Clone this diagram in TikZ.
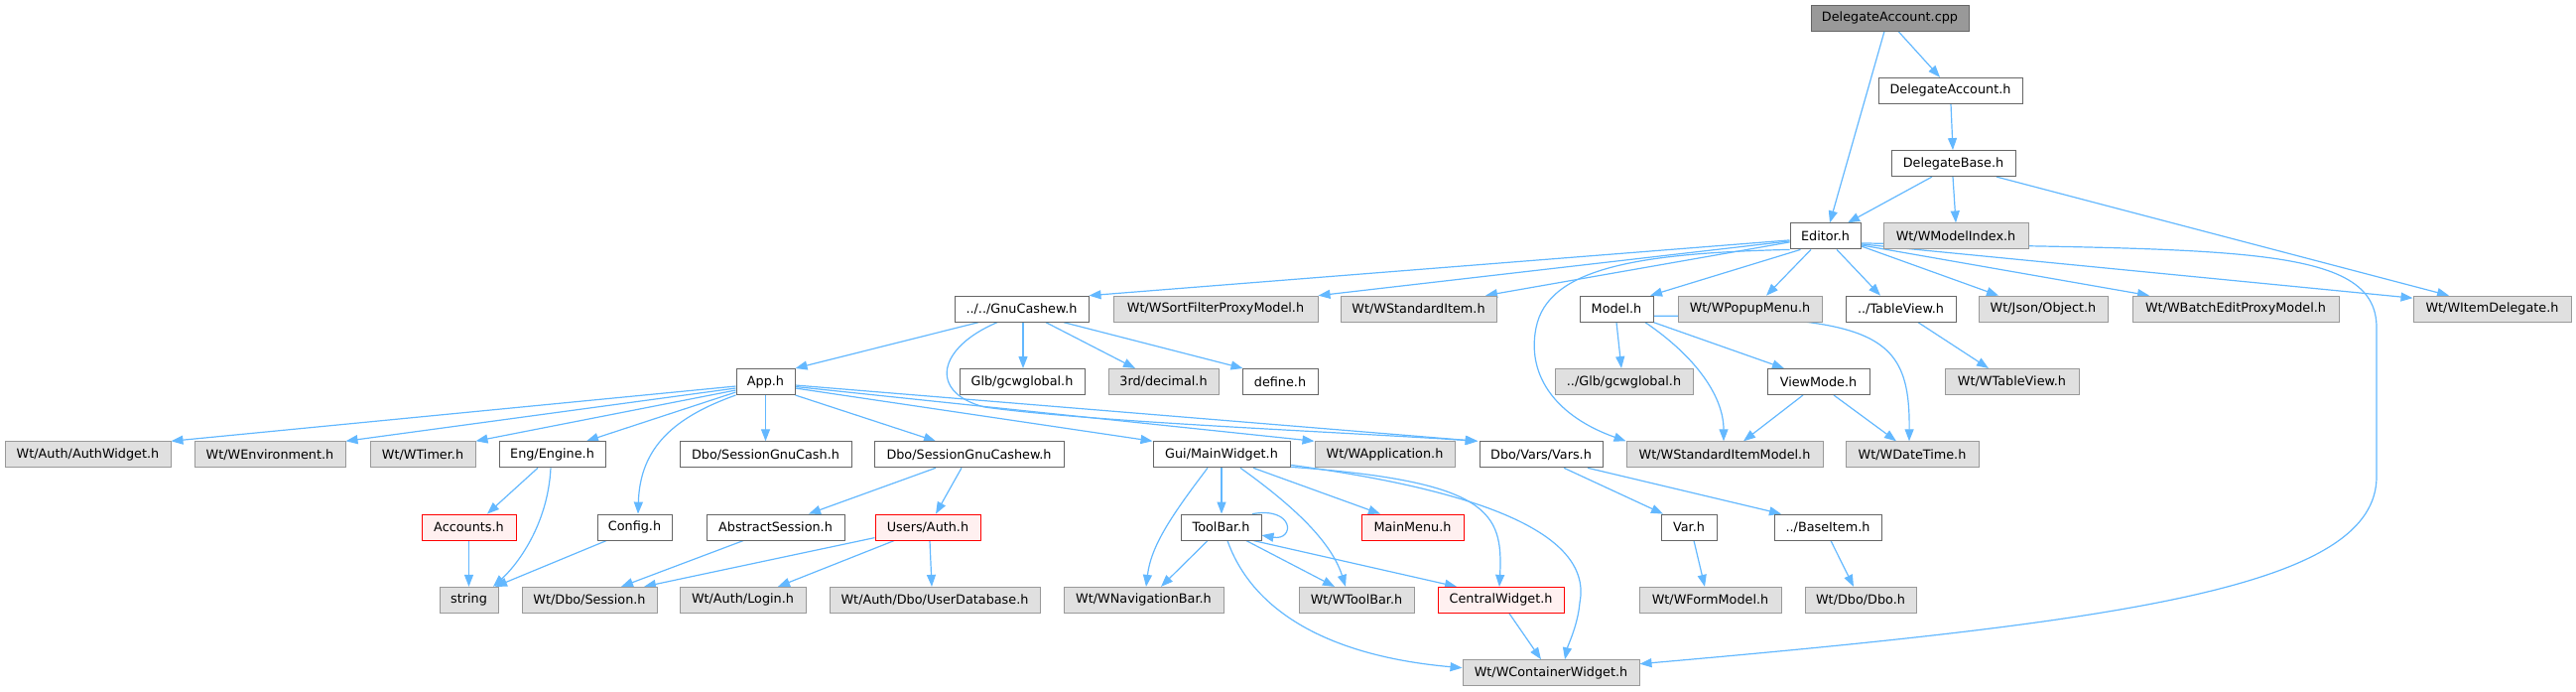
\documentclass[tikz,border=0pt]{standalone}
\usepackage{fontspec}
\setmainfont{DejaVu Sans}
\usetikzlibrary{arrows.meta}
\definecolor{edgec}{HTML}{63B8FF}
\definecolor{ndraw}{HTML}{666666}
\definecolor{xdraw}{HTML}{999999}
\definecolor{xfill}{HTML}{E0E0E0}
\definecolor{rfill}{HTML}{FFF0F0}
\definecolor{rdraw}{HTML}{FF0000}
\definecolor{rootfill}{HTML}{999999}
\pgfdeclarelayer{background}
\pgfsetlayers{background,main}
\tikzset{
 base/.style={rectangle, minimum height=26pt, inner sep=0pt, line width=1pt, font=\fontsize{12.8}{14}\selectfont, text=black},
 hfile/.style={base, draw=ndraw, fill=white},
 xfile/.style={base, draw=xdraw, fill=xfill},
 rfile/.style={base, draw=rdraw, fill=rfill},
 rootfile/.style={base, draw=ndraw, fill=rootfill},
 e/.style={draw=edgec, line width=1.2pt, -{Triangle[length=12pt,width=9pt]}},
}
\newcommand\N[6]{\node[#1, minimum width=#5pt] (#2) at (#3,#4) {#6};}
\begin{document}
\begin{tikzpicture}[x=1pt,y=-1pt]
\useasboundingbox (0,0) rectangle (2596,696);
% row 0
\N{rootfile}{dacpp}{1904.5}{18}{159}{DelegateAccount.cpp}
% row 1
\N{hfile}{dah}{1965.5}{91.3}{145}{DelegateAccount.h}
% row 2
\N{hfile}{dbase}{1968.5}{164.6}{125}{DelegateBase.h}
% row 3
\N{hfile}{editor}{1839.5}{237.9}{71}{Editor.h}
\N{xfile}{wmi}{1971}{237.9}{146}{Wt/WModelIndex.h}
% row 4
\N{hfile}{gnu}{1029.5}{311.2}{135}{../../GnuCashew.h}
\N{xfile}{wsfpm}{1225}{311.2}{206}{Wt/WSortFilterProxyModel.h}
\N{xfile}{wsi}{1429.5}{311.2}{157}{Wt/WStandardItem.h}
\N{hfile}{model}{1629}{311.2}{74}{Model.h}
\N{xfile}{wpm}{1763.5}{311.2}{145}{Wt/WPopupMenu.h}
\N{hfile}{tv}{1915.5}{311.2}{111}{../TableView.h}
\N{xfile}{json}{2059}{311.2}{130}{Wt/Json/Object.h}
\N{xfile}{wbep}{2253}{311.2}{208}{Wt/WBatchEditProxyModel.h}
\N{xfile}{wid}{2511.5}{311.2}{159}{Wt/WItemDelegate.h}
% row 5
\N{hfile}{app}{771.5}{384.5}{59}{App.h}
\N{hfile}{glb}{1030}{384.5}{126}{Glb/gcwglobal.h}
\N{xfile}{dec}{1172.5}{384.5}{111}{3rd/decimal.h}
\N{hfile}{def}{1290}{384.5}{76}{define.h}
\N{xfile}{glb2}{1636.5}{384.5}{139}{../Glb/gcwglobal.h}
\N{hfile}{vm}{1832.5}{384.5}{103}{ViewMode.h}
\N{xfile}{wtv}{2027.5}{384.5}{135}{Wt/WTableView.h}
% row 6
\N{xfile}{aw}{88.5}{457.8}{167}{Wt/Auth/AuthWidget.h}
\N{xfile}{wenv}{272}{457.8}{152}{Wt/WEnvironment.h}
\N{xfile}{wtimer}{426}{457.8}{106}{Wt/WTimer.h}
\N{hfile}{eng}{556.5}{457.8}{107}{Eng/Engine.h}
\N{hfile}{sgc}{771.5}{457.8}{173}{Dbo/SessionGnuCash.h}
\N{hfile}{sgcw}{976.5}{457.8}{191}{Dbo/SessionGnuCashew.h}
\N{hfile}{mw}{1231}{457.8}{138}{Gui/MainWidget.h}
\N{xfile}{wapp}{1395.5}{457.8}{141}{Wt/WApplication.h}
\N{hfile}{vars}{1553}{457.8}{124}{Dbo/Vars/Vars.h}
\N{xfile}{wsim}{1738}{457.8}{198}{Wt/WStandardItemModel.h}
\N{xfile}{wdt}{1927}{457.8}{134}{Wt/WDateTime.h}
% row 7
\N{rfile}{acc}{472.5}{531.1}{95}{Accounts.h}
\N{hfile}{cfg}{639.5}{531.1}{75}{Config.h}
\N{hfile}{abs}{781.5}{531.1}{139}{AbstractSession.h}
\N{rfile}{auth}{935}{531.1}{106}{Users/Auth.h}
\N{hfile}{tb}{1230.5}{531.1}{81}{ToolBar.h}
\N{rfile}{mm}{1423.5}{531.1}{103}{MainMenu.h}
\N{hfile}{var}{1702}{531.1}{56}{Var.h}
\N{hfile}{bi}{1842}{531.1}{108}{../BaseItem.h}
% row 8
\N{xfile}{str}{472.5}{604.4}{59}{string}
\N{xfile}{dses}{594}{604.4}{136}{Wt/Dbo/Session.h}
\N{xfile}{login}{748.5}{604.4}{127}{Wt/Auth/Login.h}
\N{xfile}{udb}{942}{604.4}{212}{Wt/Auth/Dbo/UserDatabase.h}
\N{xfile}{wnb}{1152.5}{604.4}{161}{Wt/WNavigationBar.h}
\N{xfile}{wtb}{1367}{604.4}{116}{Wt/WToolBar.h}
\N{rfile}{cw}{1512.5}{604.4}{127}{CentralWidget.h}
\N{xfile}{wfm}{1723.5}{604.4}{143}{Wt/WFormModel.h}
\N{xfile}{dbo}{1875}{604.4}{112}{Wt/Dbo/Dbo.h}
% row 9
\N{xfile}{wcw}{1563}{677.7}{178}{Wt/WContainerWidget.h}

\begin{pgfonlayer}{background}
% top
\draw[e] ([xshift=-5.5pt]dacpp.south) -- ([xshift=4.5pt]editor.north);
\draw[e] ([xshift=8.5pt]dacpp.south) -- ([xshift=-10.5pt]dah.north);
\draw[e] ([xshift=0.5pt]dah.south) -- ([xshift=-0.5pt]dbase.north);
\draw[e] ([xshift=-21.5pt]dbase.south) -- ([xshift=22.5pt]editor.north);
\draw[e] ([xshift=-0.5pt]dbase.south) -- (wmi.north);
\draw[e] ([xshift=43.5pt]dbase.south) -- ([xshift=-43.5pt]wid.north);
% Editor.h
\draw[e] ([yshift=-4pt]editor.west) -- (gnu.north east);
\draw[e] ([yshift=-5pt]editor.west) -- (wsfpm.north east);
\draw[e] ([yshift=-6pt]editor.west) -- ([xshift=67.5pt]wsi.north);
\draw[e] ([xshift=-25pt]editor.south) -- ([xshift=34pt]model.north);
\draw[e] ([xshift=-14.5pt]editor.south) -- ([xshift=16.5pt]wpm.north);
\draw[e] ([xshift=11.5pt]editor.south) -- ([xshift=-20.5pt]tv.north);
\draw[e] ([yshift=-10pt]editor.east) -- ([xshift=-45pt]json.north);
\draw[e] ([yshift=-9pt]editor.east) -- ([xshift=-87pt]wbep.north);
\draw[e] ([yshift=-8pt]editor.east) -- ([yshift=11pt]wid.west);
\draw[e] ([yshift=-7pt]editor.east) .. controls (2250,252) and (2395,245) .. (2395,330) -- (2395,480) .. controls (2395,590) and (2150,625) .. ([yshift=9pt]wcw.east);
\draw[e] (editor.south west) .. controls (1650,255) and (1560,270) .. (1548,330) .. controls (1538,380) and (1570,420) .. (wsim.north west);
% GnuCashew
\draw[e] ([xshift=-43.5pt]gnu.south) -- (app.north east);
\draw[e] ([xshift=1.5pt]gnu.south) -- ([xshift=1pt]glb.north);
\draw[e] ([xshift=24.5pt]gnu.south) -- ([xshift=-28.5pt]dec.north);
\draw[e] ([xshift=42.5pt]gnu.south) -- ([xshift=1pt]def.north west);
\draw[e] ([xshift=-24.5pt]gnu.south) .. controls (945,350) and (935,395) .. (992,410) .. controls (1100,425) and (1350,435) .. ([xshift=-1pt]vars.north west);
% App.h
\draw[e] ([yshift=-4.5pt]app.west) -- (aw.north east);
\draw[e] ([yshift=-6.5pt]app.west) -- (wenv.north east);
\draw[e] ([yshift=-8.5pt]app.west) -- (wtimer.north east);
\draw[e] ([yshift=-10.5pt]app.west) -- ([xshift=34.5pt]eng.north);
\draw[e] (app.south west) .. controls (680,420) and (645,450) .. ([xshift=3.5pt]cfg.north);
\draw[e] (app.south) -- (sgc.north);
\draw[e] (app.south east) -- ([xshift=-33.5pt]sgcw.north);
\draw[e] ([yshift=-6.5pt]app.east) -- (mw.north west);
\draw[e] ([yshift=-5pt]app.east) -- (wapp.north west);
\draw[e] ([yshift=-3.5pt]app.east) -- ([xshift=-2pt]vars.north west);
% lower left
\draw[e] ([xshift=-14.5pt]eng.south) -- ([xshift=18.5pt]acc.north);
\draw[e] ([xshift=-1.5pt]eng.south) .. controls (552,530) and (520,570) .. ([xshift=24.5pt]str.north);
\draw[e] (acc.south) -- (str.north);
\draw[e] ([xshift=-28.5pt]cfg.south) -- ([xshift=26.5pt]str.north);
\draw[e] ([xshift=-32.5pt]abs.south) -- ([xshift=32pt]dses.north);
\draw[e] ([yshift=3pt]auth.south west) -- ([xshift=55pt]dses.north);
\draw[e] ([xshift=-34pt]auth.south) -- ([xshift=35.5pt]login.north);
\draw[e] ([xshift=2pt]auth.south) -- ([xshift=-3pt]udb.north);
\draw[e] ([xshift=-33.5pt]sgcw.south) -- ([xshift=33.5pt]abs.north);
\draw[e] ([xshift=-7.5pt]sgcw.south) -- ([xshift=8pt]auth.north);
% MainWidget
\draw[e] (mw.south) -- ([xshift=0.5pt]tb.north);
\draw[e] ([xshift=-14pt]mw.south) .. controls (1180,520) and (1160,550) .. ([xshift=2.5pt]wnb.north);
\draw[e] ([xshift=19pt]mw.south) .. controls (1290,500) and (1340,540) .. ([xshift=-11pt]wtb.north);
\draw[e] ([xshift=32pt]mw.south) -- ([xshift=-32.5pt]mm.north);
\draw[e] ([yshift=1pt]mw.south east) .. controls (1500,485) and (1515,515) .. ([xshift=-1.5pt]cw.north);
\draw[e] ([yshift=3pt]mw.south east) .. controls (1500,495) and (1605,540) .. (1592,607) .. controls (1590,630) and (1580,650) .. ([xshift=14pt]wcw.north);
% ToolBar
\draw[e] ([xshift=31.5pt]tb.north) .. controls (1305,510) and (1305,545) .. ([yshift=-8pt]tb.east);
\draw[e] ([xshift=-13.5pt]tb.south) -- ([xshift=17.5pt]wnb.north);
\draw[e] ([xshift=25.5pt]tb.south) -- ([xshift=-22pt]wtb.north);
\draw[e] ([xshift=33pt]tb.south) -- ([xshift=-44.5pt]cw.north);
\draw[e] ([xshift=6.5pt]tb.south) .. controls (1260,610) and (1330,660) .. ([yshift=5pt]wcw.west);
\draw[e] ([xshift=8.5pt]cw.south) -- ([xshift=-10pt]wcw.north);
% Vars
\draw[e] ([xshift=23pt]vars.south) -- ([xshift=-26pt]var.north);
\draw[e] ([xshift=47pt]vars.south) -- ([xshift=-47pt]bi.north);
\draw[e] ([xshift=5pt]var.south) -- ([xshift=-5.5pt]wfm.north);
\draw[e] ([xshift=3pt]bi.south) -- ([xshift=-7pt]dbo.north);
% Model
\draw[e] (model.south) -- ([xshift=-2.5pt]glb2.north);
\draw[e] (model.south east) -- ([xshift=-34.5pt]vm.north);
\draw[e] ([xshift=29pt]model.south) .. controls (1710,360) and (1737,400) .. ([xshift=-1pt]wsim.north);
\draw[e] ([yshift=-7pt]model.east) .. controls (1890,318) and (1925,335) .. ([xshift=-3pt]wdt.north);
\draw[e] ([xshift=-15.5pt]vm.south) -- ([xshift=19pt]wsim.north);
\draw[e] ([xshift=15.5pt]vm.south) -- ([xshift=-16pt]wdt.north);
\draw[e] ([xshift=17.5pt]tv.south) -- ([xshift=-23.5pt]wtv.north);
\end{pgfonlayer}
\end{tikzpicture}
\end{document}
